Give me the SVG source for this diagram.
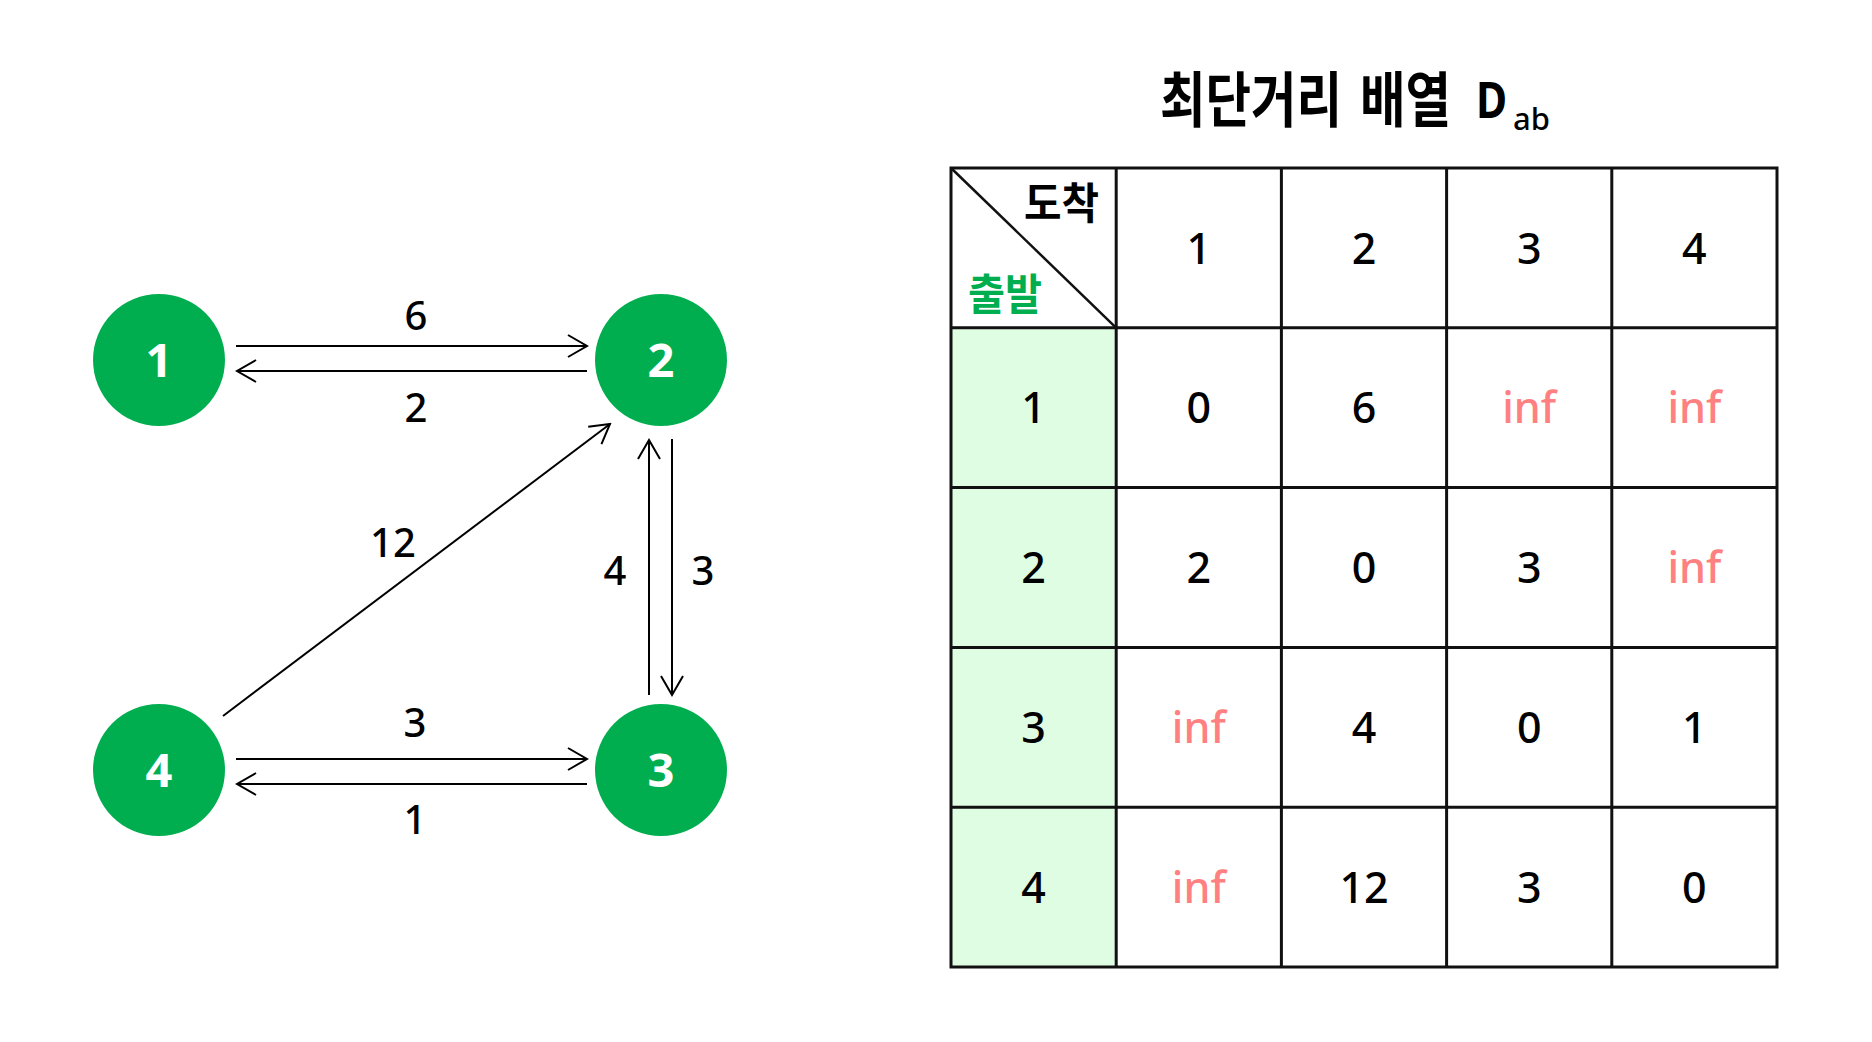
<svg xmlns="http://www.w3.org/2000/svg" width="1872" height="1042" viewBox="0 0 1872 1042">
<style>
.node{fill:#00ae4f}
.nlab{font-family:"Noto Sans","Liberation Sans",sans-serif;font-size:47px;font-weight:700;fill:#fff;text-anchor:middle}
.edge{stroke:#000;stroke-width:2;fill:none}
.elab{font-family:"Noto Sans","Liberation Sans",sans-serif;font-size:40px;font-weight:500;fill:#000;text-anchor:middle}
.grid{stroke:#111;stroke-width:3;fill:none}
.cell{font-family:"Noto Sans","Liberation Sans",sans-serif;font-size:43px;font-weight:500;fill:#000;text-anchor:middle}
.inf{fill:#ff8080}
.kr{font-family:"Noto Sans CJK KR","Noto Sans",sans-serif;font-weight:700}
</style>
<defs>
<marker id="arr" viewBox="-22 -13 24 26" markerWidth="24" markerHeight="26" refX="0" refY="0" orient="auto" markerUnits="userSpaceOnUse">
<path d="M-19,-11 L0,0 L-19,11" fill="none" stroke="#000" stroke-width="2"/>
</marker>
</defs>
<rect width="1872" height="1042" fill="#fff"/>

<g id="connectors">
<line class="edge" x1="236" y1="346" x2="587" y2="346" marker-end="url(#arr)"/>
<line class="edge" x1="587" y1="371" x2="237" y2="371" marker-end="url(#arr)"/>
<line class="edge" x1="236" y1="759" x2="587" y2="759" marker-end="url(#arr)"/>
<line class="edge" x1="587" y1="784" x2="237" y2="784" marker-end="url(#arr)"/>
<line class="edge" x1="223" y1="716" x2="610" y2="424" marker-end="url(#arr)"/>
<line class="edge" x1="649" y1="695" x2="649" y2="440" marker-end="url(#arr)"/>
<line class="edge" x1="672" y1="439" x2="672" y2="695" marker-end="url(#arr)"/>
<text class="elab" x="416" y="330">6</text>
<text class="elab" x="416" y="422">2</text>
<text class="elab" x="415" y="737">3</text>
<text class="elab" x="415" y="834">1</text>
<text class="elab" x="393" y="557">12</text>
<text class="elab" x="615" y="585">4</text>
<text class="elab" x="703" y="585">3</text>
</g>

<g id="node1"><circle class="node" cx="159" cy="360" r="66"/><text class="nlab" x="159" y="377">1</text></g>
<g id="node2"><circle class="node" cx="661" cy="360" r="66"/><text class="nlab" x="661" y="377">2</text></g>
<g id="node3"><circle class="node" cx="661" cy="770" r="66"/><text class="nlab" x="661" y="787">3</text></g>
<g id="node4"><circle class="node" cx="159" cy="770" r="66"/><text class="nlab" x="159" y="787">4</text></g>

<g id="title">
<text class="kr" transform="translate(1160 122) scale(0.825 1)" font-size="60" word-spacing="8">최단거리 배열</text>
<text transform="translate(1476 118) scale(0.85 1)" font-family="'Noto Sans','Liberation Sans',sans-serif" font-weight="700" font-size="50">D</text>
<text x="1513" y="130" font-family="'Noto Sans','Liberation Sans',sans-serif" font-weight="500" font-size="31">ab</text>
</g>

<g id="table">
<rect x="951" y="327.8" width="165.2" height="639.2" fill="#dffde3"/>
<rect class="grid" x="951" y="168" width="826" height="799"/>
<line class="grid" x1="1116.2" y1="168" x2="1116.2" y2="967"/>
<line class="grid" x1="1281.4" y1="168" x2="1281.4" y2="967"/>
<line class="grid" x1="1446.6" y1="168" x2="1446.6" y2="967"/>
<line class="grid" x1="1611.8" y1="168" x2="1611.8" y2="967"/>
<line class="grid" x1="951" y1="327.8" x2="1777" y2="327.8"/>
<line class="grid" x1="951" y1="487.6" x2="1777" y2="487.6"/>
<line class="grid" x1="951" y1="647.4" x2="1777" y2="647.4"/>
<line class="grid" x1="951" y1="807.2" x2="1777" y2="807.2"/>
<line x1="951" y1="168" x2="1116.2" y2="327.8" stroke="#111" stroke-width="2.5"/>
<text class="kr" x="1099" y="219" font-size="43" text-anchor="end" textLength="75" lengthAdjust="spacingAndGlyphs" fill="#000">도착</text>
<text class="kr" x="968" y="310" font-size="43" textLength="74" lengthAdjust="spacingAndGlyphs" fill="#00ae4f">출발</text>

<text class="cell" x="1198.8" y="263.5">1</text>
<text class="cell" x="1364" y="263.5">2</text>
<text class="cell" x="1529.2" y="263.5">3</text>
<text class="cell" x="1694.4" y="263.5">4</text>

<text class="cell" x="1033.6" y="423.3">1</text>
<text class="cell" x="1198.8" y="423.3">0</text>
<text class="cell" x="1364" y="423.3">6</text>
<text class="cell inf" x="1529.2" y="423.3">inf</text>
<text class="cell inf" x="1694.4" y="423.3">inf</text>

<text class="cell" x="1033.6" y="583.1">2</text>
<text class="cell" x="1198.8" y="583.1">2</text>
<text class="cell" x="1364" y="583.1">0</text>
<text class="cell" x="1529.2" y="583.1">3</text>
<text class="cell inf" x="1694.4" y="583.1">inf</text>

<text class="cell" x="1033.6" y="742.9">3</text>
<text class="cell inf" x="1198.8" y="742.9">inf</text>
<text class="cell" x="1364" y="742.9">4</text>
<text class="cell" x="1529.2" y="742.9">0</text>
<text class="cell" x="1694.4" y="742.9">1</text>

<text class="cell" x="1033.6" y="902.7">4</text>
<text class="cell inf" x="1198.8" y="902.7">inf</text>
<text class="cell" x="1364" y="902.7">12</text>
<text class="cell" x="1529.2" y="902.7">3</text>
<text class="cell" x="1694.4" y="902.7">0</text>
</g>
</svg>
